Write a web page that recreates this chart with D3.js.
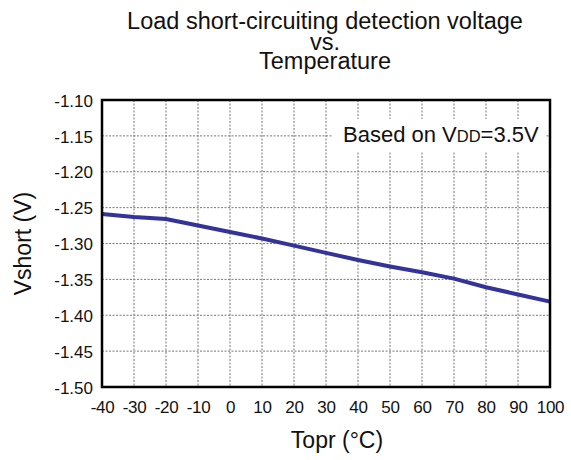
<!DOCTYPE html>
<html>
<head>
<meta charset="utf-8">
<style>
  body { margin: 0; background: #fff; }
  svg { font-family: Arial, "Liberation Sans", sans-serif; }
  .grid line { stroke: #777; stroke-width: 1; stroke-dasharray: 2,1.5; }
</style>
</head>
<body>
<svg width="571" height="460"></svg>
<script src="https://cdn.jsdelivr.net/npm/d3@7"></script>
<script>
// readings
var temps = [-40, -30, -20, -10, 0, 10, 20, 30, 40, 50, 60, 70, 80, 90, 100];
var vshort = [-1.259, -1.263, -1.266, -1.275, -1.284, -1.293, -1.303, -1.313, -1.323, -1.332, -1.340, -1.349, -1.361, -1.371, -1.381];
var xTicks = d3.range(-40, 101, 10);
var yTicks = [-1.10, -1.15, -1.20, -1.25, -1.30, -1.35, -1.40, -1.45, -1.50];
var titleLines = ["Load short-circuiting detection voltage", "vs.", "Temperature"];

var svg = d3.select("svg"),
    margin = {top: 100, right: 21, bottom: 73, left: 102},
    width = +svg.attr("width") - margin.left - margin.right,
    height = +svg.attr("height") - margin.top - margin.bottom,
    g = svg.append("g").attr("transform", "translate(" + margin.left + "," + margin.top + ")");

var x = d3.scaleLinear().domain([-40, 100]).range([0, width]);
var y = d3.scaleLinear().domain([-1.50, -1.10]).range([height, 0]);

// plain hyphen instead of d3's unicode minus
var fmtX = d => d3.format("d")(d).replace("\u2212", "-");
var fmtY = d => d3.format(".2f")(d).replace("\u2212", "-");

// grid
g.append("g").attr("class", "grid")
  .selectAll("line").data(xTicks.slice(1, -1)).enter().append("line")
  .attr("x1", d => x(d)).attr("x2", d => x(d))
  .attr("y1", 0).attr("y2", height);
g.append("g").attr("class", "grid")
  .selectAll("line").data(yTicks.slice(1, -1)).enter().append("line")
  .attr("y1", d => y(d)).attr("y2", d => y(d))
  .attr("x1", 0).attr("x2", width);

// note box
var note = g.append("g");
note.append("rect")
  .attr("x", 231).attr("y", 19).attr("width", 213).attr("height", 32)
  .attr("fill", "#fff");
var nt = note.append("text")
  .attr("x", 241).attr("y", 42)
  .attr("font-size", 22).attr("fill", "#111");
nt.append("tspan").text("Based on V");
nt.append("tspan").attr("font-size", 16.5).text("DD");
nt.append("tspan").text("=3.5V");

// line
var line = d3.line().x((d, i) => x(temps[i])).y(d => y(d));
g.append("path").datum(vshort)
  .attr("fill", "none")
  .attr("stroke", "#333399")
  .attr("stroke-width", 4)
  .attr("d", line);

// frame
g.append("rect").attr("width", width).attr("height", height)
  .attr("fill", "none").attr("stroke", "#000").attr("stroke-width", 2.5);

// axes
var xAxis = g.append("g")
  .attr("transform", "translate(0," + height + ")")
  .call(d3.axisBottom(x).tickValues(xTicks).tickSize(0).tickPadding(14).tickFormat(fmtX));
var yAxis = g.append("g")
  .call(d3.axisLeft(y).tickValues(yTicks).tickSize(0).tickPadding(9).tickFormat(fmtY));
[xAxis, yAxis].forEach(function (a) {
  a.select(".domain").remove();
  a.selectAll("text").attr("font-size", 17).attr("font-family", "Arial, 'Liberation Sans', sans-serif").attr("fill", "#111");
});
xAxis.selectAll("text").attr("letter-spacing", -0.3);
yAxis.selectAll("text").attr("dy", "0.36em");

// titles
svg.append("g").selectAll("text").data(titleLines).enter().append("text")
  .attr("x", 325).attr("y", (d, i) => [29, 50, 69][i])
  .attr("text-anchor", "middle").attr("font-size", 23.5).attr("fill", "#111")
  .text(d => d);

svg.append("text")
  .attr("x", 337).attr("y", 448)
  .attr("text-anchor", "middle").attr("font-size", 23).attr("fill", "#111")
  .text("Topr (°C)");

svg.append("text")
  .attr("transform", "translate(31," + (margin.top + height / 2) + ") rotate(-90)")
  .attr("text-anchor", "middle").attr("font-size", 23).attr("fill", "#111")
  .text("Vshort (V)");
</script>
</body>
</html>
